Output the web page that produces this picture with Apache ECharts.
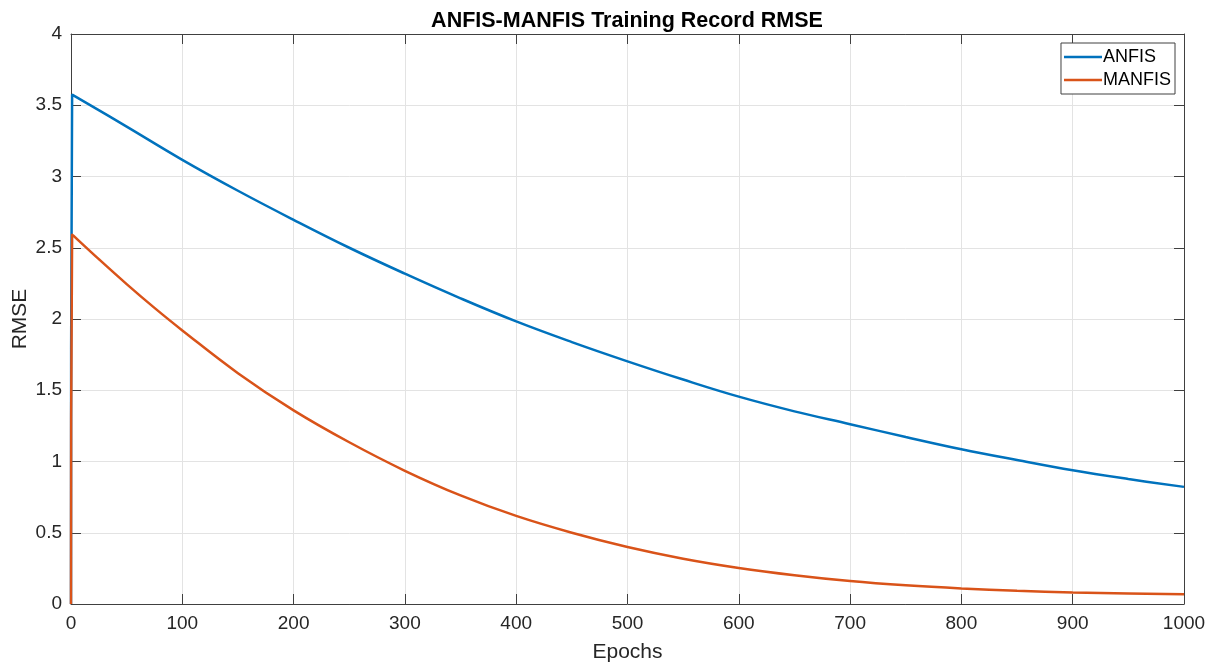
<!DOCTYPE html>
<html>
<head>
<meta charset="utf-8">
<script src="https://cdn.jsdelivr.net/npm/echarts@6/dist/echarts.min.js"></script>
<style>
html,body{margin:0;padding:0;background:#fff;}
#chart{width:1217px;height:668px;}
</style>
</head>
<body>
<div id="chart"></div>
<script>
const epochsAnfis = [0, 1, 50, 100, 150, 200, 250, 300, 350, 400, 450, 500, 550, 600, 650, 700, 750, 800, 850, 900, 950, 1000];
const anfisRmse  = [0, 3.575, 3.35, 3.117, 2.90, 2.696, 2.50, 2.318, 2.145, 1.983, 1.838, 1.703, 1.575, 1.455, 1.352, 1.262, 1.172, 1.086, 1.010, 0.938, 0.877, 0.822];
const epochsManfis = [0, 1, 25, 50, 75, 100, 150, 200, 250, 300, 350, 400, 450, 500, 550, 600, 650, 700, 750, 800, 850, 900, 950, 1000];
const manfisRmse  = [0, 2.593, 2.42, 2.245, 2.078, 1.920, 1.62, 1.359, 1.135, 0.935, 0.762, 0.618, 0.500, 0.400, 0.318, 0.253, 0.202, 0.161, 0.131, 0.109, 0.093, 0.081, 0.074, 0.069];
const xTicks = [0, 100, 200, 300, 400, 500, 600, 700, 800, 900, 1000];
const yTicks = [0, 0.5, 1, 1.5, 2, 2.5, 3, 3.5, 4];

const axisColor = '#404040';
const textColor = '#262626';
const gridColor = '#e3e3e3';
const font = 'Liberation Sans, Arial, Helvetica, sans-serif';

const chart = echarts.init(document.getElementById('chart'));
const zip = (xs, ys) => xs.map((x, i) => [x, ys[i]]);

chart.setOption({
  animation: false,
  backgroundColor: '#fff',
  title: {
    text: 'ANFIS-MANFIS Training Record RMSE',
    left: 622, top: 5, textAlign: 'center',
    textStyle: {fontFamily: font, fontSize: 21.5, fontWeight: 'bold', color: '#000'}
  },
  legend: {
    right: 42, top: 43, orient: 'vertical',
    backgroundColor: '#fff', borderColor: axisColor, borderWidth: 1,
    padding: [5, 4, 5, 3], itemGap: 5,
    icon: 'rect', itemWidth: 38, itemHeight: 2.5,
    textStyle: {fontFamily: font, fontSize: 18, color: '#000', padding: [0, 0, 0, -4]},
    data: ['ANFIS', 'MANFIS']
  },
  grid: {left: 71, right: 33, top: 34, bottom: 64, containLabel: false, outerBoundsMode: 'none'},
  xAxis: [{
    type: 'value', min: 0, max: 1000, interval: 100,
    name: 'Epochs', nameLocation: 'middle', nameGap: 38, nameMoveOverlap: false,
    nameTextStyle: {fontFamily: font, fontSize: 21, color: textColor},
    axisLine: {show: true, onZero: false, lineStyle: {color: axisColor, width: 1}},
    axisTick: {show: true, inside: true, length: 10, lineStyle: {color: axisColor}},
    axisLabel: {fontFamily: font, fontSize: 19, color: textColor, margin: 10,
      formatter: v => xTicks.includes(v) ? String(v) : ''},
    splitLine: {show: true, lineStyle: {color: gridColor, width: 1}}
  }, {
    type: 'value', min: 0, max: 1000, interval: 100, position: 'top',
    axisLine: {show: true, onZero: false, lineStyle: {color: axisColor, width: 1}},
    axisTick: {show: true, inside: true, length: 10, lineStyle: {color: axisColor}},
    axisLabel: {show: false}, splitLine: {show: false}
  }],
  yAxis: [{
    type: 'value', min: 0, max: 4, interval: 0.5,
    name: 'RMSE', nameLocation: 'middle', nameGap: 40, nameMoveOverlap: false,
    nameTextStyle: {fontFamily: font, fontSize: 21, color: textColor},
    axisLine: {show: true, onZero: false, lineStyle: {color: axisColor, width: 1}},
    axisTick: {show: true, inside: true, length: 10, lineStyle: {color: axisColor}},
    axisLabel: {fontFamily: font, fontSize: 19, color: textColor, margin: 9,
      formatter: v => yTicks.includes(v) ? String(v) : ''},
    splitLine: {show: true, lineStyle: {color: gridColor, width: 1}}
  }, {
    type: 'value', min: 0, max: 4, interval: 0.5, position: 'right',
    axisLine: {show: true, onZero: false, lineStyle: {color: axisColor, width: 1}},
    axisTick: {show: true, inside: true, length: 10, lineStyle: {color: axisColor}},
    axisLabel: {show: false}, splitLine: {show: false}
  }],
  series: [{
    name: 'ANFIS', type: 'line', xAxisIndex: 0, yAxisIndex: 0,
    data: zip(epochsAnfis, anfisRmse), showSymbol: false, symbol: 'none',
    smooth: 0.4,
    lineStyle: {color: '#0072BD', width: 2.5}, itemStyle: {color: '#0072BD'}
  }, {
    name: 'MANFIS', type: 'line', xAxisIndex: 0, yAxisIndex: 0,
    data: zip(epochsManfis, manfisRmse), showSymbol: false, symbol: 'none',
    smooth: 0.4,
    lineStyle: {color: '#D95319', width: 2.5}, itemStyle: {color: '#D95319'}
  }]
});
</script>
</body>
</html>
